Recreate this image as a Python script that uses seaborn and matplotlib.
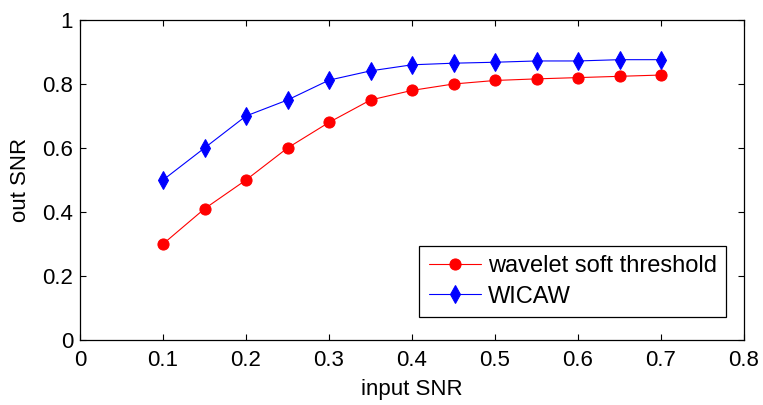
import numpy as np
import pandas as pd
import matplotlib
matplotlib.use("Agg")
import matplotlib.pyplot as plt
import seaborn as sns

# values
input_snr = [0.1, 0.15, 0.2, 0.25, 0.3, 0.35, 0.4, 0.45, 0.5, 0.55, 0.6, 0.65, 0.7]
wavelet_soft = [0.30, 0.41, 0.50, 0.60, 0.68, 0.75, 0.78, 0.80, 0.811, 0.816, 0.820, 0.824, 0.828]
wicaw = [0.50, 0.60, 0.70, 0.75, 0.812, 0.841, 0.860, 0.865, 0.868, 0.872, 0.872, 0.876, 0.876]

sns.set_style("ticks")
plt.rcParams['font.family'] = ['Liberation Sans', 'DejaVu Sans']
plt.rcParams['font.size'] = 16
# MATLAB-like pure black text and ticks
for key in ['text.color', 'axes.labelcolor', 'xtick.color', 'ytick.color', 'axes.edgecolor']:
    plt.rcParams[key] = 'black'

df = pd.DataFrame({'input SNR': input_snr,
                   'wavelet soft threshold': wavelet_soft,
                   'WICAW': wicaw})

fig = plt.figure(figsize=(7.63, 4.05), dpi=100)
# axes box: x 80..744 px, y 20..340 px
ax = fig.add_axes([80 / 763, 65 / 405, 664 / 763, 320 / 405])

sns.lineplot(data=df, x='input SNR', y='wavelet soft threshold', ax=ax,
             color='red', marker='o', markersize=8, markeredgecolor='red',
             linewidth=0.8, label='wavelet soft threshold')
sns.lineplot(data=df, x='input SNR', y='WICAW', ax=ax,
             color='blue', marker='d', markersize=9, markeredgecolor='blue',
             linewidth=0.8, label='WICAW')

ax.set_xlim(0, 0.8)
ax.set_ylim(0, 1)
ax.set_xticks(np.arange(0, 0.81, 0.1))
ax.set_yticks(np.arange(0, 1.01, 0.2))
ax.set_xticklabels(['0', '0.1', '0.2', '0.3', '0.4', '0.5', '0.6', '0.7', '0.8'])
ax.set_yticklabels(['0', '0.2', '0.4', '0.6', '0.8', '1'])
ax.set_xlabel('input SNR', labelpad=6)
ax.set_ylabel('out SNR', labelpad=8)
ax.tick_params(direction='in', length=4.5, width=0.8, top=True, right=True,
               labelsize=16, color='black', labelcolor='black')
ax.tick_params(axis='x', pad=7)
ax.tick_params(axis='y', pad=5)
for s in ax.spines.values():
    s.set_linewidth(0.9)
    s.set_color('black')

leg = ax.legend(loc='lower right', bbox_to_anchor=(0.973, 0.072), frameon=True,
                fancybox=False, edgecolor='black', framealpha=1,
                borderpad=0.4, labelspacing=0.35, handlelength=2.2,
                handletextpad=0.3, borderaxespad=0, fontsize=17, labelcolor='black')
leg.get_frame().set_linewidth(0.9)

fig.savefig('out.png', dpi=100)
